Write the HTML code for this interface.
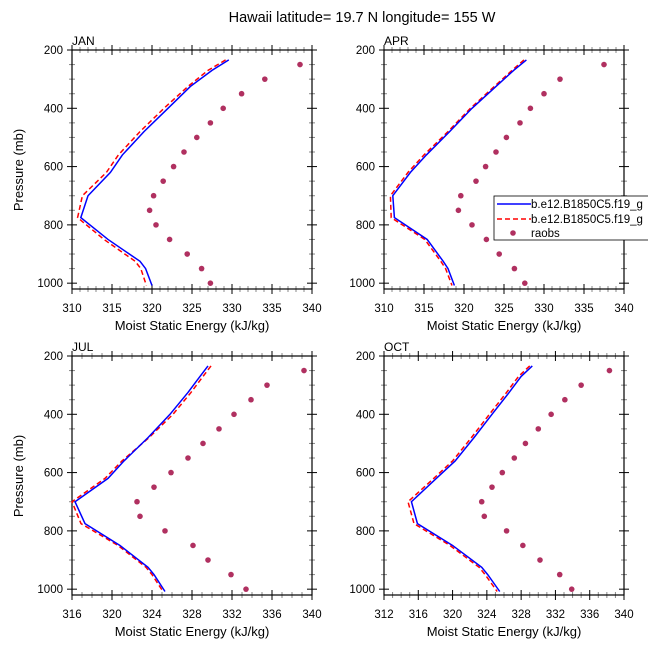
<!DOCTYPE html>
<html><head><meta charset="utf-8"><style>
body{margin:0;background:#fff}
svg{display:block;font-family:"Liberation Sans",sans-serif}
</style></head><body>
<svg id="c" width="648" height="648" viewBox="0 0 648 648">
<text x="362" y="22" font-size="14.5" text-anchor="middle">Hawaii  latitude= 19.7 N longitude= 155 W</text>
</svg>
<script>
const months = ["JAN","APR","JUL","OCT"];
const xMins = [310,310,316,312];
const xMaxs = [340,340,340,340];
const xMajorSteps = [5,5,4,4];
const pTicks = [200,400,600,800,1000];
const obsLevels = [250,300,350,400,450,500,550,600,650,700,750,800,850,900,950,1000];
const modelLevels = [234,270,325,400,480,560,620,700,775,850,925,950,1008];
const blueJAN = [329.6,327.5,324.8,322,319,316.3,314.8,312,311.1,314.5,318.5,319.2,320];
const redJAN  = [329.2,327,324.5,321.5,318.5,315.8,314.3,311.3,310.7,314,317.9,318.6,319.3];
const obsJAN  = [338.5,334.1,331.2,328.9,327.3,325.6,324.0,322.7,321.4,320.2,319.7,320.5,322.2,324.4,326.2,327.3];
const blueAPR = [327.8,326.2,324,321,318.2,315.3,313.3,311.1,311.3,315.4,317.4,318,318.8];
const redAPR  = [327.5,326,323.8,320.8,318,315,313,310.8,310.9,315.1,317.1,317.7,318.5];
const obsAPR  = [337.5,332,330,328.3,327,325.3,324,322.7,321.5,319.6,319.3,321,322.8,324.4,326.3,327.6];
const blueJUL = [329.6,328.8,327.6,325.8,323.6,321.2,319.6,316.3,317.3,320.8,323.6,324.2,325.3];
const redJUL  = [329.9,329.1,327.9,326.1,323.7,321,319.3,316,316.9,320.6,323.4,324,325.1];
const obsJUL  = [339.2,335.5,333.9,332.2,330.7,329.1,327.6,325.9,324.2,322.5,322.8,325.3,328.1,329.6,331.9,333.4];
const blueOCT = [329.3,328,326.6,324.6,322.5,320.3,318.1,315.2,315.9,320,323.4,324.1,325.5];
const redOCT  = [329,327.7,326.3,324.3,322.2,320,317.8,314.8,315.5,319.7,323.1,323.8,325.2];
const obsOCT  = [338.3,335.0,333.1,331.5,330.0,328.5,327.2,325.8,324.6,323.4,323.7,326.3,328.2,330.2,332.5,333.9];
const blueAll=[blueJAN,blueAPR,blueJUL,blueOCT], redAll=[redJAN,redAPR,redJUL,redOCT], obsAll=[obsJAN,obsAPR,obsJUL,obsOCT];

const svg=document.getElementById('c');
const NS='http://www.w3.org/2000/svg';
function mk(tag,attrs,parent){const e=document.createElementNS(NS,tag);for(const k in attrs)e.setAttribute(k,attrs[k]);(parent||svg).appendChild(e);return e;}
const lefts=[72,384,72,384], tops=[50,50,356,356], W=240, H=239;
const P0=200,P1=1020;
months.forEach((m,i)=>{
  const L=lefts[i],T=tops[i],xmin=xMins[i],xmax=xMaxs[i];
  const g=mk('g',{});
  
  
  const X=v=>L+(v-xmin)/(xmax-xmin)*W;
  const Y=p=>T+(p-P0)/(P1-P0)*H;
  for(let v=xmin;v<=xmax+1e-9;v+=1){
    const maj=((v-xmin)%xMajorSteps[i])===0, len=maj?5:3, x=X(v), c=maj?'#000':'#888';
    mk('line',{x1:x,y1:T+H-len,x2:x,y2:T+H+len,stroke:c,'stroke-width':1},g);
    mk('line',{x1:x,y1:T-len,x2:x,y2:T+len,stroke:c,'stroke-width':1},g);
    if(maj){const t=mk('text',{x:x,y:T+H+23,'font-size':11.5,'text-anchor':'middle'},g);t.textContent=v;
      }
  }
  for(let p=200;p<=1000;p+=50){
    const maj=p%200===0,len=maj?5:3,y=Y(p),c=maj?'#000':'#888';
    mk('line',{x1:L-len,y1:y,x2:L+len,y2:y,stroke:c},g);
    mk('line',{x1:L+W-len,y1:y,x2:L+W+len,y2:y,stroke:c},g);
  }
  pTicks.forEach(p=>{const t=mk('text',{x:L-9,y:Y(p)+4,'font-size':11.5,'text-anchor':'end'},g);t.textContent=p;
    });
  const fr=mk('rect',{x:L,y:T,width:W,height:H,fill:'none',stroke:'#000','stroke-width':1.2},g);
  
  const lab=mk('text',{x:L,y:T-5,'font-size':12},g);lab.textContent=m;
  
  const xt=mk('text',{x:L+W/2,y:T+H+41,'font-size':13,'text-anchor':'middle'},g);xt.textContent='Moist Static Energy (kJ/kg)';
  
  if(i%2===0){const yt=mk('text',{x:0,y:0,'font-size':13,'text-anchor':'middle',transform:`translate(${L-49},${T+120}) rotate(-90)`},g);yt.textContent='Pressure (mb)';
    }
  const red=mk('polyline',{points:redAll[i].map((v,k)=>X(v)+','+Y(modelLevels[k])).join(' '),fill:'none',stroke:'#ff0000','stroke-width':1.5,'stroke-dasharray':'5,3'},g);
  
  const blue=mk('polyline',{points:blueAll[i].map((v,k)=>X(v)+','+Y(modelLevels[k])).join(' '),fill:'none',stroke:'#0000ff','stroke-width':1.5},g);
  
  obsAll[i].forEach((v,k)=>{const c=mk('circle',{cx:X(v),cy:Y(obsLevels[k]),r:2.8,fill:'#b03060'},g);
    });
});
const lg=mk('g',{});


mk('rect',{x:494,y:196,width:160,height:44,fill:'#fff',stroke:'#000','stroke-width':0.8},lg);
const le=[['#0000ff','',204,'b.e12.B1850C5.f19_g'],['#ff0000','5,3',219,'b.e12.B1850C5.f19_g'],['#b03060','dot',233,'raobs']];
le.forEach(e=>{
  if(e[1]==='dot'){mk('circle',{cx:513,cy:e[2],r:2.8,fill:e[0]},lg);}
  else mk('line',{x1:497,y1:e[2],x2:531,y2:e[2],stroke:e[0],'stroke-width':1.5,'stroke-dasharray':e[1]||'none'},lg);
  const t=mk('text',{x:531,y:e[2]+4,'font-size':11.5},lg);t.textContent=e[3];
  
});
</script>
</body></html>
